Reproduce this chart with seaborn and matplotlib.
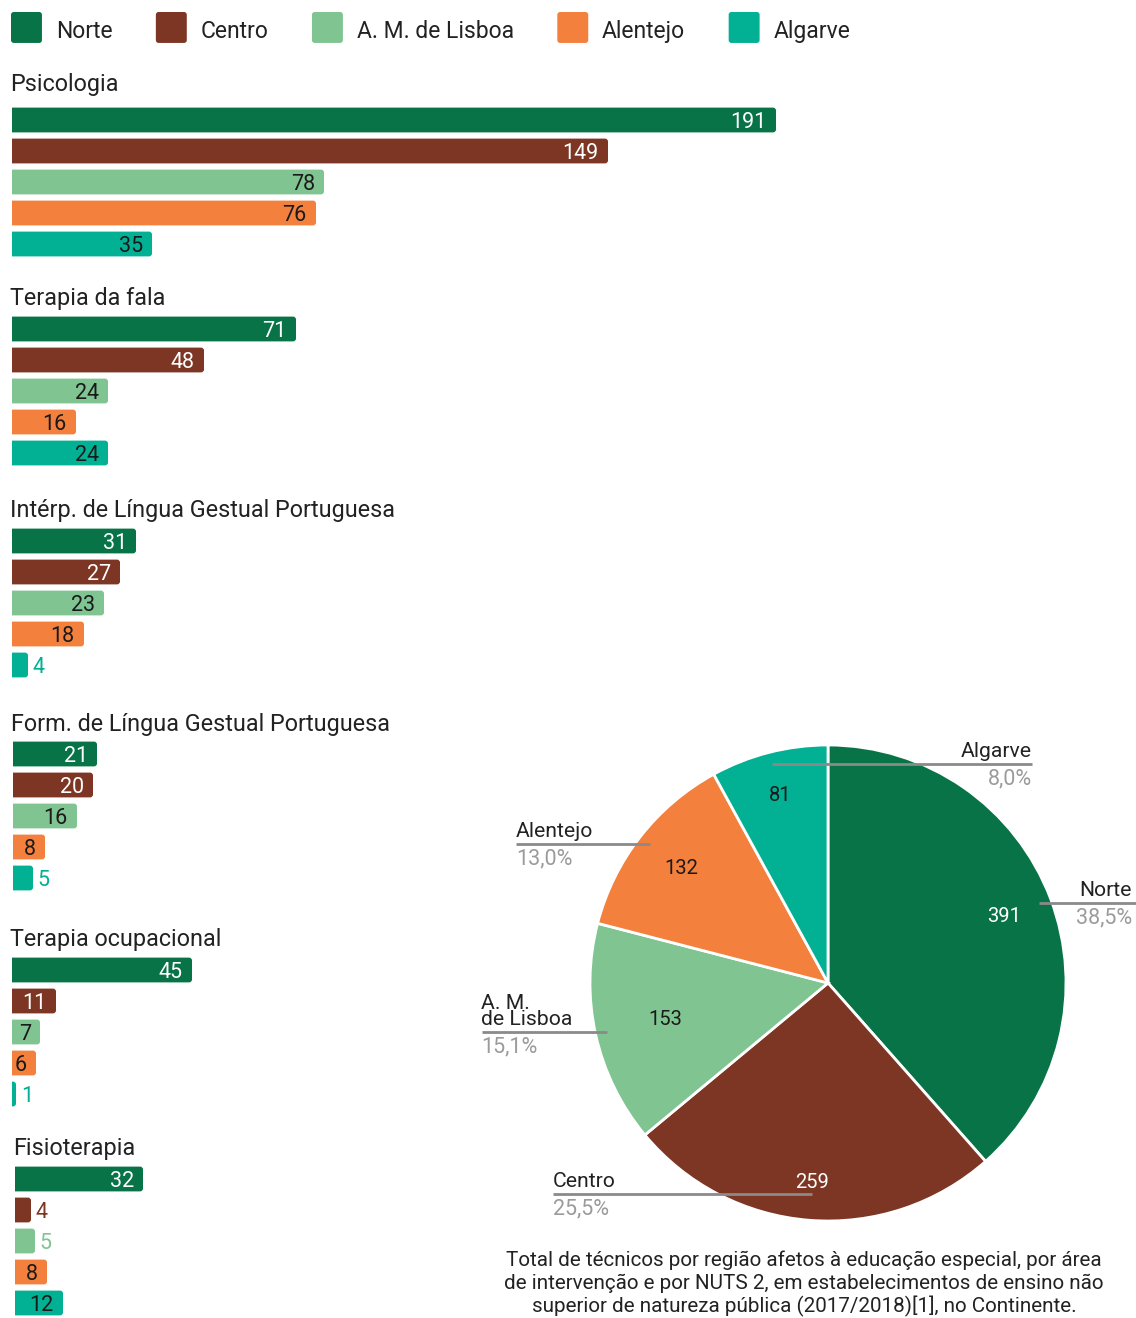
import matplotlib
matplotlib.use("Agg")
import numpy as np
import pandas as pd
import matplotlib.pyplot as plt
from matplotlib.patches import FancyBboxPatch, Patch
from matplotlib.legend_handler import HandlerPatch
import seaborn as sns

# ---------------------------------------------------------------- data
regions = ["Norte", "Centro", "A. M. de Lisboa", "Alentejo", "Algarve"]
region_colors = ["#077346", "#7d3623", "#80c492", "#f4803d", "#02b093"]
inside_text_colors = ["white", "white", "#1a1a1a", "#1a1a1a", "#1a1a1a"]

areas = [
    "Psicologia",
    "Terapia da fala",
    "Intérp. de Língua Gestual Portuguesa",
    "Form. de Língua Gestual Portuguesa",
    "Terapia ocupacional",
    "Fisioterapia",
]
psicologia = [191, 149, 78, 76, 35]
terapia_fala = [71, 48, 24, 16, 24]
interp_lgp = [31, 27, 23, 18, 4]
form_lgp = [21, 20, 16, 8, 5]
terapia_ocupacional = [45, 11, 7, 6, 1]
fisioterapia = [32, 4, 5, 8, 12]
area_values = [psicologia, terapia_fala, interp_lgp, form_lgp,
               terapia_ocupacional, fisioterapia]

pie_totals = [391, 259, 153, 132, 81]
pie_names = ["Norte", "Centro", "A. M.\nde Lisboa", "Alentejo", "Algarve"]
pie_value_colors = ["white", "white", "#1a1a1a", "#1a1a1a", "#1a1a1a"]

caption = ("Total de técnicos por região afetos à educação especial, por área\n"
           "de intervenção e por NUTS 2, em estabelecimentos de ensino não\n"
           "superior de natureza pública (2017/2018)[1], no Continente.")

# ---------------------------------------------------------------- layout (pixels)
W, H = 1136, 1318
DPI = 100
BAR_STEP = 31          # px between bar centres
PX_PER_UNIT = 4        # horizontal scale of the bar panels
INSIDE_MIN = 6         # smaller values are labelled outside the bar
group_first_bar = [120, 329, 541, 754, 970, 1179]
group_left = [12, 12, 12, 13, 12, 15]
title_x = [10, 10, 10, 11, 10, 13]
title_baseline = [91, 305, 517, 731, 946, 1155]

TEXT = "#222222"
GREY_TEXT = "#9b9b9b"
LINE = "#8a8a8a"

sns.set_theme(style="white")
plt.rcParams["font.family"] = ["Roboto", "DejaVu Sans"]
plt.rcParams["text.color"] = TEXT

fig = plt.figure(figsize=(W / DPI, H / DPI), dpi=DPI)
fig.patch.set_facecolor("white")


def fig_rect(x0, y0, x1, y1):
    """Convert a pixel box (top-left origin) to figure coordinates."""
    return [x0 / W, 1 - y1 / H, (x1 - x0) / W, (y1 - y0) / H]


def round_bars(ax, radius_px):
    """Give the bars rounded right-hand corners (left edge is clipped square)."""
    r = radius_px / PX_PER_UNIT
    aspect = (1 / BAR_STEP) / (1 / PX_PER_UNIT)
    for p in list(ax.patches):
        x, y = p.get_x(), p.get_y()
        w, h = p.get_width(), p.get_height()
        fc = p.get_facecolor()
        p.remove()
        ax.add_patch(FancyBboxPatch(
            (x - r, y), w + r, h,
            boxstyle=f"round,pad=0,rounding_size={r}",
            mutation_aspect=aspect, facecolor=fc, edgecolor="none"))


# ---------------------------------------------------------------- bar panels
panel_width_px = 800
for i, (area, vals) in enumerate(zip(areas, area_values)):
    c0 = group_first_bar[i]
    top = c0 - BAR_STEP / 2
    bottom = c0 + 4 * BAR_STEP + BAR_STEP / 2
    left = group_left[i]
    ax = fig.add_axes(fig_rect(left, top, left + panel_width_px, bottom))
    df = pd.DataFrame({"region": regions, "value": vals})
    sns.barplot(data=df, x="value", y="region", hue="region",
                palette=region_colors, hue_order=regions, order=regions,
                saturation=1, width=0.8, legend=False, ax=ax)
    ax.set_xlim(0, panel_width_px / PX_PER_UNIT)
    ax.set_ylim(4.5, -0.5)
    round_bars(ax, 3)
    ax.set_axis_off()

    for j, v in enumerate(vals):
        if v >= INSIDE_MIN:
            ax.text(v - 2.3, j, str(v), ha="right", va="center_baseline",
                    fontsize=15.5, color=inside_text_colors[j])
        else:
            ax.text(v + 1.2, j, str(v), ha="left", va="center_baseline",
                    fontsize=15.5, color=region_colors[j])

    fig.text(title_x[i] / W, 1 - title_baseline[i] / H, area, ha="left",
             va="baseline", fontsize=16.8, color=TEXT)

# ---------------------------------------------------------------- legend
LEGEND_LIFT = 3 * 72 / DPI   # raise the swatch a little above the text baseline


def rounded_swatch(legend, orig_handle, xdescent, ydescent, width, height,
                   fontsize):
    return FancyBboxPatch((-xdescent, -ydescent + LEGEND_LIFT), width, height,
                          boxstyle="round,pad=0,rounding_size=2")


handles = [Patch(facecolor=c, edgecolor="none", label=r)
           for r, c in zip(regions, region_colors)]
fig.legend(handles=handles, loc="upper left",
           bbox_to_anchor=(11 / W, 1 - 15 / H), ncol=5, frameon=False,
           fontsize=16.5, handlelength=1.35, handleheight=1.7,
           handletextpad=0.6, columnspacing=1.9, borderpad=0,
           borderaxespad=0,
           handler_map={Patch: HandlerPatch(patch_func=rounded_swatch)})

# ---------------------------------------------------------------- pie
CX, CY, R = 828, 983, 238
px0, py0, px1, py1 = 470, 700, 1136, 1240
pax = fig.add_axes(fig_rect(px0, py0, px1, py1))
total = sum(pie_totals)
wedges, _, autotexts = pax.pie(
    pie_totals, colors=region_colors, startangle=90, counterclock=False,
    radius=1, autopct=lambda p: f"{p * total / 100:.0f}", pctdistance=0.79,
    wedgeprops=dict(edgecolor="white", linewidth=2),
    textprops=dict(fontsize=14.5))

# value labels sit at slightly different depths inside each slice
value_radius = [0.79, 0.84, 0.70, 0.78, 0.815]
for t, col, w, d in zip(autotexts, pie_value_colors, wedges, value_radius):
    t.set_color(col)
    th = np.deg2rad((w.theta1 + w.theta2) / 2)
    t.set_position((d * np.cos(th), d * np.sin(th)))

pax.set_xlim((px0 - CX) / R, (px1 - CX) / R)
pax.set_ylim(-(py1 - CY) / R, (CY - py0) / R)
pax.set_aspect("auto")
pax.set_axis_off()

# callout lines: start on the slice's mid-angle, run horizontally to the label
line_radius = [0.95, 0.89, 0.95, 0.95, 0.95]
line_end_px = [1136, 553, 482, 516, 1032]
label_x_px = [1132, 553, 481, 516, 1032]
pcts = [100 * v / total for v in pie_totals]
for k, w in enumerate(wedges):
    theta = np.deg2rad((w.theta1 + w.theta2) / 2)
    ax_ = line_radius[k] * np.cos(theta)
    ay_ = line_radius[k] * np.sin(theta)
    ex = (line_end_px[k] - CX) / R
    pax.plot([ax_, ex], [ay_, ay_], color=LINE, lw=2, solid_capstyle="butt",
             clip_on=False)
    tx = (label_x_px[k] - CX) / R
    ha = "right" if line_end_px[k] > CX else "left"
    pax.annotate(pie_names[k], (tx, ay_), xytext=(0, 2),
                 textcoords="offset points", ha=ha, va="bottom",
                 fontsize=15.2, color=TEXT, linespacing=0.85,
                 annotation_clip=False)
    pct_txt = f"{pcts[k]:.1f}%".replace(".", ",")
    pax.annotate(pct_txt, (tx, ay_), xytext=(0, -3),
                 textcoords="offset points", ha=ha, va="top",
                 fontsize=15.5, color=GREY_TEXT, annotation_clip=False)

# ---------------------------------------------------------------- caption
fig.text(804 / W, 1 - 1284 / H, caption, ha="center", va="center",
         multialignment="center", fontsize=14.9, color=TEXT, linespacing=1.2)

fig.savefig("out.png", dpi=DPI, facecolor="white")
